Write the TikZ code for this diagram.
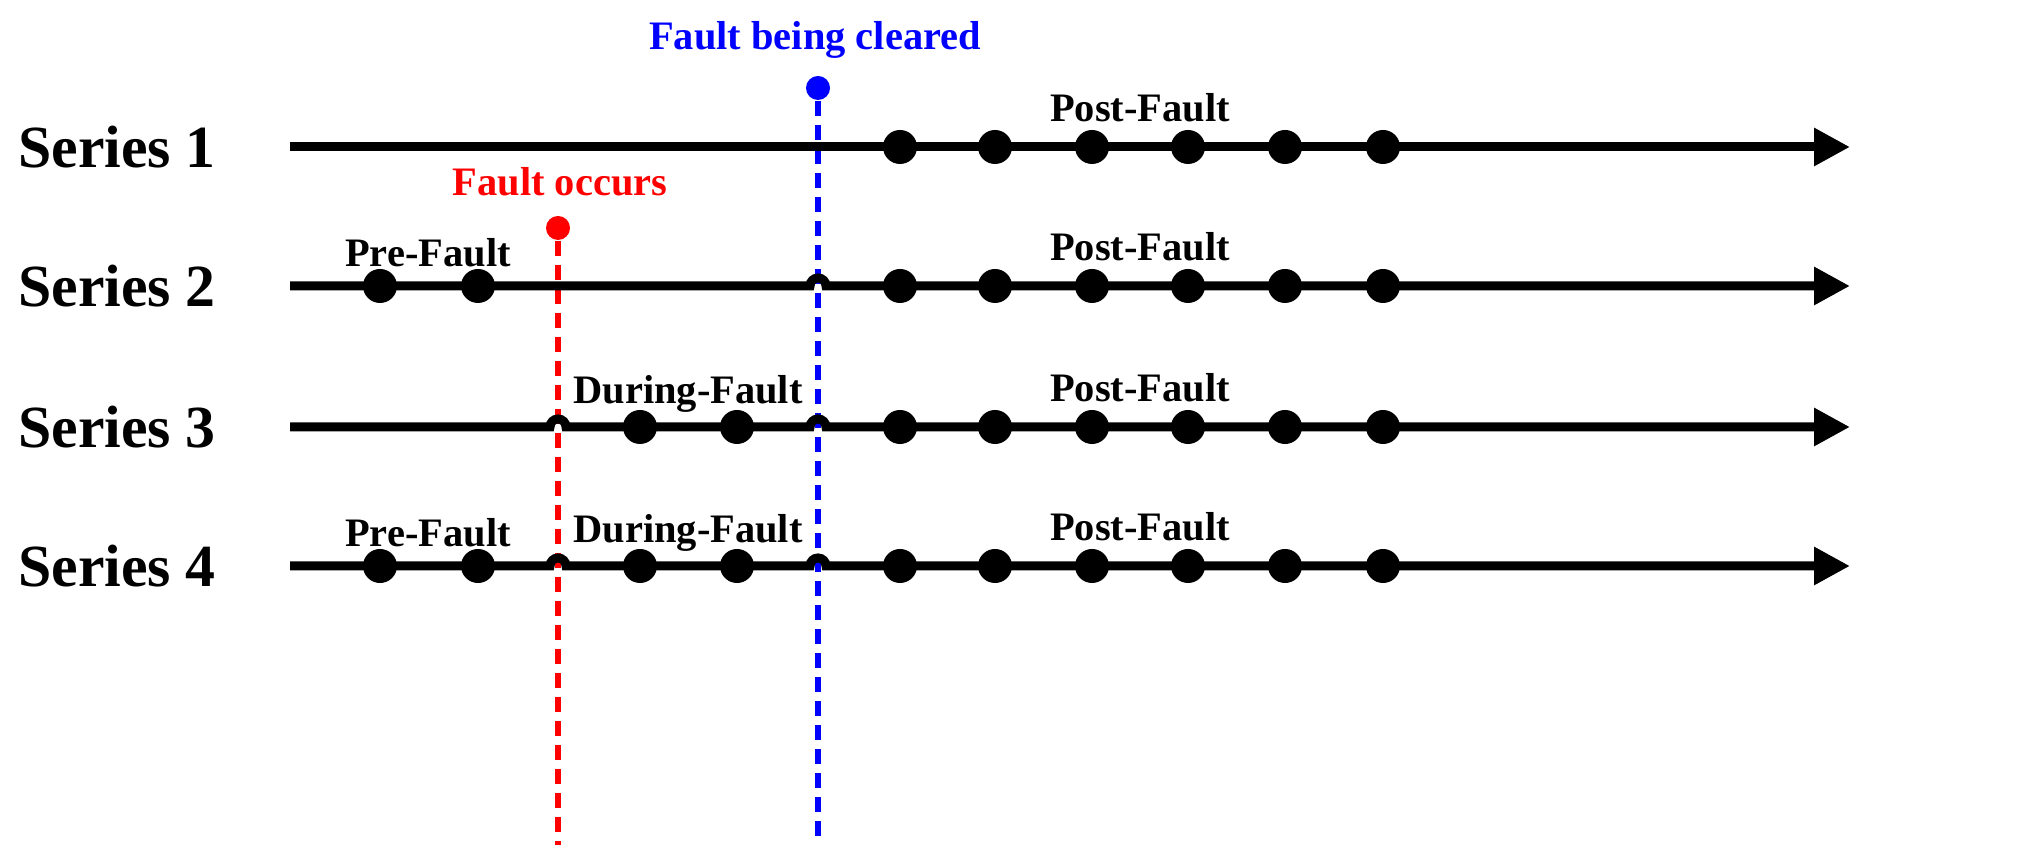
\documentclass[tikz,border=0pt]{standalone}
\usepackage{fontspec}
\setmainfont{Liberation Serif}
\usetikzlibrary{arrows.meta}
\begin{document}
\begin{tikzpicture}[x=0.01cm,y=-0.01cm,
  ser/.style={font=\fontsize{17}{17}\selectfont\bfseries},
  lab/.style={font=\fontsize{11.5}{12}\selectfont\bfseries},
  axis/.style={line width=0.09cm,-{Triangle[length=0.36cm,width=0.36cm]}},
  dot/.style={circle,fill=black,inner sep=0pt,minimum size=0.34cm},
  dsh/.style={line width=0.055cm,dash pattern=on 0.15cm off 0.09cm}]
\useasboundingbox (0,0) rectangle (2019,862);
% dashed lines
\node[circle,fill=red,inner sep=0pt,minimum size=0.24cm] (rd) at (558,228) {};
\coordinate (re) at (558,845);
\draw[dsh,red] (rd) -- (re);
\node[circle,fill=blue,inner sep=0pt,minimum size=0.24cm] (bd) at (818,88) {};
\coordinate (be) at (818,845);
\draw[dsh,blue] (bd) -- (be);
\node[lab,red] (fo) at (560,182) {Fault occurs};
\node[lab,blue] (fc) at (815,40) {Fault being cleared};
% series lines
\foreach \i/\y in {1/147,2/286,3/427,4/566}{
  \node[ser] (s\i) at (117,\y) {Series \i};
  \coordinate (a\i) at (290,\y);
  \coordinate (b\i) at (1850,\y);
}
\draw[axis] (a1) -- (b1);
\draw[axis] (a2) -- (810,286) arc (180:0:0.08cm) -- (b2);
\draw[axis] (a3) -- (550,427) arc (180:0:0.08cm) -- (810,427) arc (180:0:0.08cm) -- (b3);
\draw[axis] (a4) -- (550,566) arc (180:0:0.08cm) -- (810,566) arc (180:0:0.08cm) -- (b4);
% dots
\foreach \i/\y in {1/147,2/286,3/427,4/566}{
  \foreach \x [count=\k] in {900,995,1092,1188,1285,1383}
    \node[dot] (p\i\k) at (\x,\y) {};
  \node[lab] (pl\i) at (1140,\y-39) {Post-Fault};
}
\foreach \i/\y in {2/286,4/566}{
  \node[dot] (q\i1) at (380,\y) {};
  \node[dot] (q\i2) at (478,\y) {};
  \node[lab] (ql\i) at (428,\y-33) {Pre-Fault};
}
\foreach \i/\y in {3/427,4/566}{
  \node[dot] (d\i1) at (640,\y) {};
  \node[dot] (d\i2) at (737,\y) {};
  \node[lab] (dl\i) at (688,\y-33) {During-Fault};
}
\end{tikzpicture}
\end{document}
